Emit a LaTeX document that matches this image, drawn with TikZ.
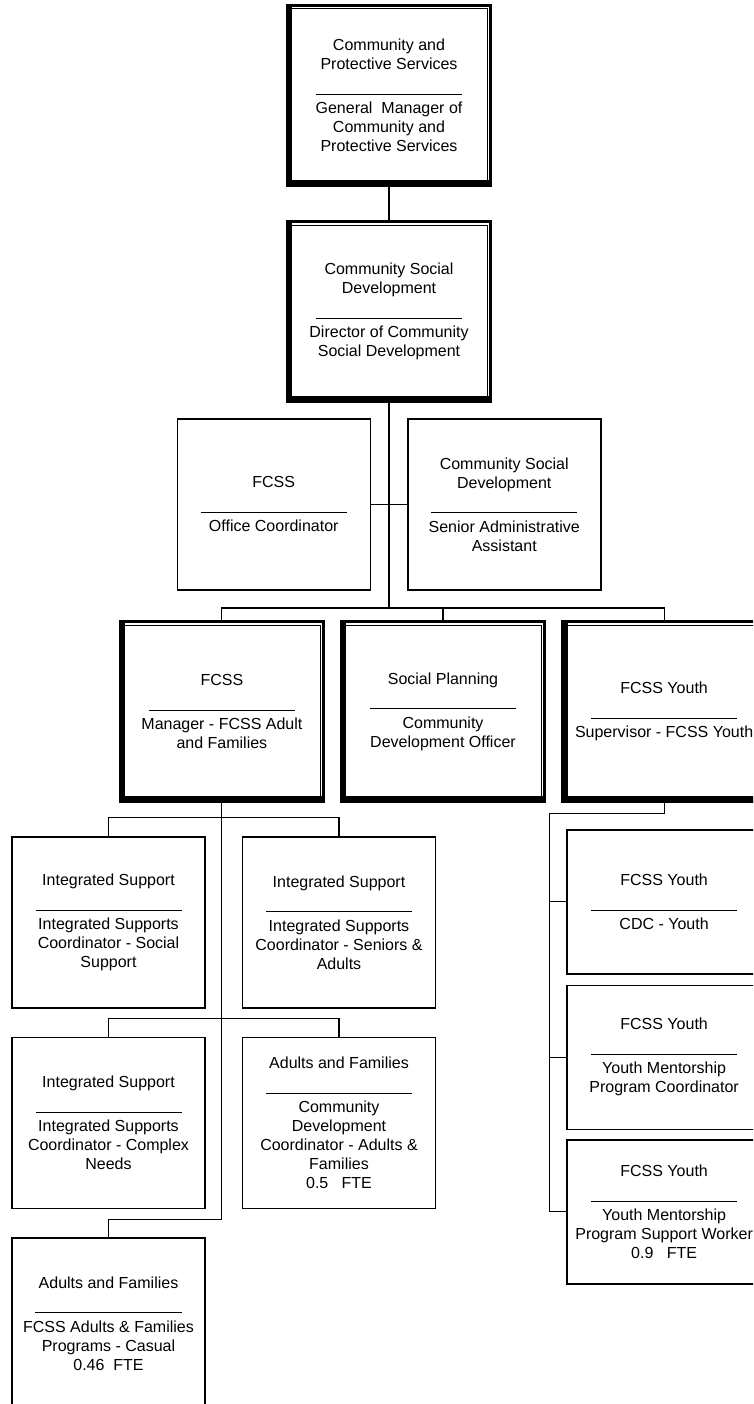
\documentclass[tikz,border=0pt]{standalone}
\usepackage{fontspec}
\setmainfont{Liberation Sans}
\usetikzlibrary{positioning}
\tikzset{unit/.style={shape=rectangle, draw, line width=1.5pt, inner sep=0pt,
    minimum width=193pt, minimum height=171pt, align=center}}
\tikzset{boss/.style={shape=rectangle, inner sep=0pt,
    minimum width=205pt, minimum height=182pt, align=center}}
\tikzset{youth/.style={unit, minimum width=194pt, minimum height=144pt}}
\tikzset{every node/.style={font=\fontsize{16}{19}\selectfont}}
\newcommand{\orgtext}[2]{#1\\[6pt]\rule{146pt}{0.9pt}\\#2}

\begin{document}
\begin{tikzpicture}[x=1pt, y=-1pt, line width=1.1pt]
    \useasboundingbox (0,0) rectangle (753,1404);
    \clip (0,0) rectangle (753,1404);
    % top of the chart
    \node[boss] (gm) at (389,95.5)
        {\orgtext{Community and\\Protective Services}{General\ \ Manager of\\Community and\\Protective Services}};
    \node[boss, below=33pt of gm] (csd)
        {\orgtext{Community Social\\Development}{Director of Community\\Social Development}};
    \node[unit, below left=15pt and 18pt of csd.south] (office)
        {\orgtext{FCSS}{Office Coordinator}};
    \node[unit, below right=15pt and 18pt of csd.south] (senior)
        {\orgtext{Community Social\\Development}{Senior Administrative\\Assistant}};
    % second level
    \node[boss] (plan) at (443,711.5)
        {\orgtext{Social Planning}{Community\\Development Officer}};
    \node[boss, left=15pt of plan] (mgr)
        {\orgtext{FCSS}{Manager - FCSS Adult\\and Families}};
    \node[boss, right=15pt of plan] (sup)
        {\orgtext{FCSS Youth}{Supervisor - FCSS Youth}};
    % adults and families
    \node[unit] (is1) at (108.5,922.5)
        {\orgtext{Integrated Support}{Integrated Supports\\Coordinator - Social\\Support}};
    \node[unit, right=36pt of is1] (is2)
        {\orgtext{Integrated Support}{Integrated Supports\\Coordinator - Seniors \&\\Adults}};
    \node[unit, below=28pt of is1] (is3)
        {\orgtext{Integrated Support}{Integrated Supports\\Coordinator - Complex\\Needs}};
    \node[unit, right=36pt of is3] (adf)
        {\orgtext{Adults and Families}{Community\\Development\\Coordinator - Adults \&\\Families\\0.5~~~FTE}};
    \node[unit, below=28pt of is3] (fam)
        {\orgtext{Adults and Families}{FCSS Adults \& Families\\Programs - Casual\\0.46~~FTE}};
    % youth
    \node[youth, below=26pt of sup] (cdc)
        {\orgtext{FCSS Youth}{CDC - Youth}};
    \node[youth, below=10pt of cdc] (ymc)
        {\orgtext{FCSS Youth}{Youth Mentorship\\Program Coordinator}};
    \node[youth, below=9pt of ymc] (yms)
        {\orgtext{FCSS Youth}{Youth Mentorship\\Program Support Worker\\0.9~~~FTE}};

    % double frames
    \foreach \n in {gm,csd,plan,mgr,sup} {
        \draw[line width=3pt] ([shift={(1.5pt,-1.5pt)}]\n.north west) rectangle ([shift={(-1.5pt,1.5pt)}]\n.south east);
        \draw[line width=0.9pt] ([shift={(5pt,-5pt)}]\n.north west) rectangle ([shift={(-5pt,5pt)}]\n.south east);
        \fill (\n.north west) rectangle ([xshift=6.5pt]\n.south west);
        \fill ([yshift=7pt]\n.south west) rectangle (\n.south east);
    }

    \draw (gm) -- (csd);
    \draw (mgr.north) -- ++(0,-12) coordinate (bus) -| (sup.north);
    \draw (csd.south) -- (csd.south |- bus);
    \draw (plan.north) -- (plan.north |- bus);
    \draw (office.east) -- (senior.west);
    \draw (is1.north) -- ++(0,-19) -| (is2.north);
    \draw (is3.north) -- ++(0,-18) -| (adf.north);
    \draw (fam.north) -- ++(0,-18) -| (mgr.south);
    \draw (sup.south) -- ++(0,10) -| ([xshift=-17pt]yms.west) -- (yms.west);
    \draw (cdc.west) -- ++(-17,0);
    \draw (ymc.west) -- ++(-17,0);
\end{tikzpicture}
\end{document}
